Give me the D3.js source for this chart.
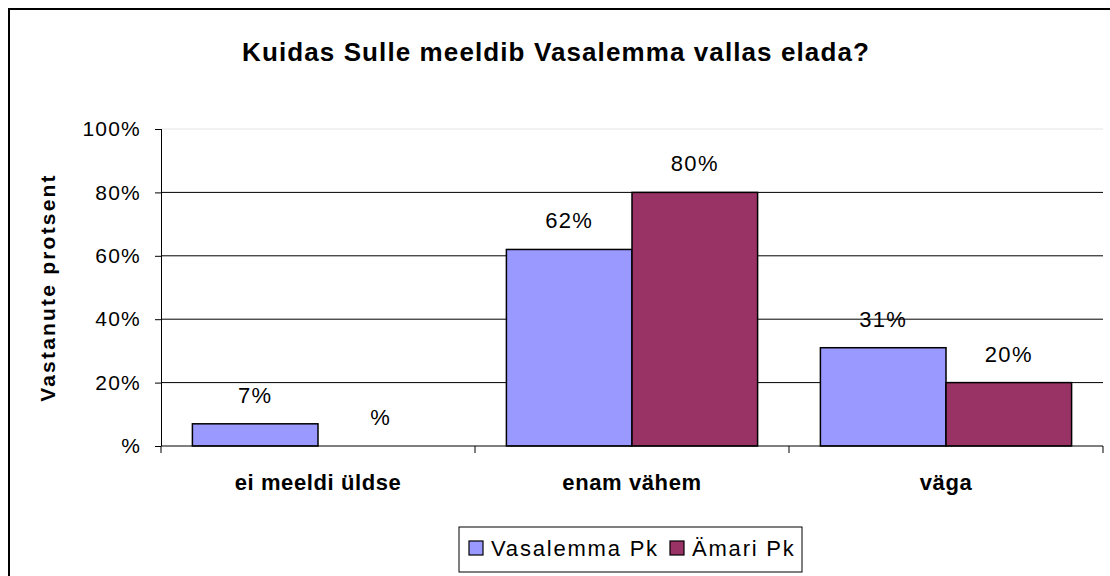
<!DOCTYPE html>
<html>
<head>
<meta charset="utf-8">
<script src="https://cdn.jsdelivr.net/npm/d3@7"></script>
<style>
  body { margin: 0; background: #fff; }
  text { font-family: "Liberation Sans", Arial, sans-serif; }
</style>
</head>
<body>
<svg id="chart" width="1110" height="576"></svg>
<script>
// data
var categories = ["ei meeldi üldse", "enam vähem", "väga"];
var seriesNames = ["Vasalemma Pk", "Ämari Pk"];
var vasalemma = [7, 62, 31];
var ämari = [0, 80, 20];
var yTicks = [0, 20, 40, 60, 80, 100];
var colors = ["#9999FF", "#993366"];

var svg = d3.select("#chart");
var margin = { top: 129, right: 7, bottom: 130, left: 161 };
var width = 1110 - margin.left - margin.right;
var height = 576 - margin.top - margin.bottom;

// outer chart border (runs off the right and bottom edges)
svg.append("rect")
    .attr("x", 9).attr("y", 9)
    .attr("width", 1200).attr("height", 700)
    .attr("fill", "none")
    .attr("stroke", "#000")
    .attr("stroke-width", 2);

svg.append("text")
    .attr("x", 556)
    .attr("y", 61)
    .attr("text-anchor", "middle")
    .style("font-size", "26px")
    .style("font-weight", "bold")
    .style("letter-spacing", "1.1px")
    .text("Kuidas Sulle meeldib Vasalemma vallas elada?");

var g = svg.append("g")
    .attr("transform", "translate(" + margin.left + "," + margin.top + ")");

var x = d3.scaleBand()
    .domain(categories)
    .range([0, width])
    .paddingInner(0)
    .paddingOuter(0);

var xs = d3.scaleBand()
    .domain(seriesNames)
    .range([x.bandwidth() * 0.1, x.bandwidth() * 0.9]);

var y = d3.scaleLinear()
    .domain([0, 100])
    .range([height, 0]);

// gridlines
g.selectAll(".grid")
    .data(yTicks.filter(function(d) { return d > 0; }))
    .enter()
    .append("line")
    .attr("class", "grid")
    .attr("x1", 0)
    .attr("x2", width)
    .attr("y1", function(d) { return y(d); })
    .attr("y2", function(d) { return y(d); })
    .attr("stroke", function(d) { return d === 100 ? "#e4e4e4" : "#000"; })
    .attr("stroke-width", 1);

var rows = seriesNames.map(function(s, si) {
    var vals = si === 0 ? vasalemma : ämari;
    return categories.map(function(c, ci) {
        return { cat: c, series: s, si: si, value: vals[ci] };
    });
});

var barGroups = g.selectAll(".series")
    .data(rows)
    .enter()
    .append("g")
    .attr("class", "series");

barGroups.selectAll("rect")
    .data(function(d) { return d.filter(function(v) { return v.value > 0; }); })
    .enter()
    .append("rect")
    .attr("x", function(d) { return x(d.cat) + xs(d.series); })
    .attr("y", function(d) { return y(d.value); })
    .attr("width", xs.bandwidth())
    .attr("height", function(d) { return height - y(d.value); })
    .attr("fill", function(d) { return colors[d.si]; })
    .attr("stroke", "#000")
    .attr("stroke-width", 1.5);

// value labels, zero shows as bare "%"
barGroups.selectAll(".lbl")
    .data(function(d) { return d; })
    .enter()
    .append("text")
    .attr("class", "lbl")
    .attr("x", function(d) { return x(d.cat) + xs(d.series) + xs.bandwidth() / 2; })
    .attr("y", function(d) { return y(d.value) - 21; })
    .attr("text-anchor", "middle")
    .style("font-size", "22px")
    .style("letter-spacing", "1.3px")
    .text(function(d) { return d.value === 0 ? "%" : d.value + "%"; });

// y axis
var yAxis = g.append("g")
    .call(d3.axisLeft(y).tickValues(yTicks).tickSize(6).tickPadding(14)
        .tickFormat(function(d) { return d === 0 ? "%" : d + "%"; }));
yAxis.select(".domain").attr("stroke", "#000").attr("d", "M0.5," + height + "V0");
yAxis.selectAll("text").style("font-size", "21px").attr("fill", "#000")
    .style("letter-spacing", "1.2px")
    .style("font-family", "Liberation Sans, Arial, sans-serif");

// x axis with ticks between categories
var xAxis = g.append("g")
    .attr("transform", "translate(0," + height + ")");
xAxis.append("line")
    .attr("x1", 0).attr("x2", width)
    .attr("stroke", "#000");
xAxis.selectAll(".xt")
    .data(d3.range(categories.length + 1))
    .enter()
    .append("line")
    .attr("x1", function(i) { return i * x.step(); })
    .attr("x2", function(i) { return i * x.step(); })
    .attr("y1", 0).attr("y2", 7)
    .attr("stroke", "#000");
xAxis.selectAll(".xl")
    .data(categories)
    .enter()
    .append("text")
    .attr("x", function(d) { return x(d) + x.bandwidth() / 2; })
    .attr("y", 44)
    .attr("text-anchor", "middle")
    .style("font-size", "22px")
    .style("font-weight", "bold")
    .style("letter-spacing", "0.6px")
    .text(function(d) { return d; });

// y title
svg.append("text")
    .attr("transform", "translate(55," + (margin.top + height / 2) + ") rotate(-90)")
    .attr("text-anchor", "middle")
    .style("font-size", "21px")
    .style("font-weight", "bold")
    .style("letter-spacing", "2.2px")
    .text("Vastanute protsent");

// legend
var legend = svg.append("g").attr("transform", "translate(459,527)");
legend.append("rect")
    .attr("width", 343).attr("height", 45)
    .attr("fill", "#fff").attr("stroke", "#000");
var items = [{ x: 10, name: seriesNames[0], c: colors[0] }, { x: 211, name: seriesNames[1], c: colors[1] }];
items.forEach(function(it) {
    legend.append("rect")
        .attr("x", it.x).attr("y", 14)
        .attr("width", 14).attr("height", 14)
        .attr("fill", it.c).attr("stroke", "#000").attr("stroke-width", 1.2);
    legend.append("text")
        .attr("x", it.x + 22).attr("y", 29)
        .style("font-size", "22px")
        .style("letter-spacing", "1.8px")
        .text(it.name);
});
</script>
</body>
</html>
